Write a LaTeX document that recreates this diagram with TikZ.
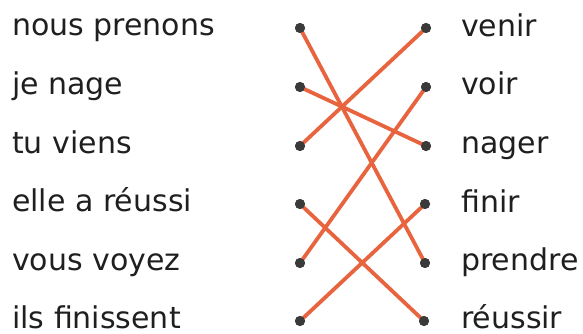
\documentclass[tikz,border=0pt]{standalone}
\usepackage{fontspec}
\setmainfont{DejaVu Sans}
\definecolor{linecol}{HTML}{E8643E}
\definecolor{dotcol}{HTML}{3A3A3A}
\begin{document}
\begin{tikzpicture}[x=1pt,y=-1pt,
  lab/.style={anchor=base west,inner sep=0pt,text depth=0pt,font=\fontsize{30}{32}\selectfont,text=black!88},
  dotn/.style={circle,fill=dotcol,inner sep=0pt,minimum size=10pt},
  link/.style={linecol,line width=3.8pt}]
\useasboundingbox (0,0) rectangle (583,334);
% left labels
\node[lab] (l1) at (12,36) {nous prenons};
\node[lab] (l2) at (12,95) {je nage};
\node[lab] (l3) at (12,153) {tu viens};
\node[lab] (l4) at (12,211) {elle a réussi};
\node[lab] (l5) at (12,270) {vous voyez};
\node[lab] (l6) at (12,328) {ils finissent};
% right labels
\node[lab] (r1) at (461,37) {venir};
\node[lab] (r2) at (461,95) {voir};
\node[lab] (r3) at (461,153) {nager};
\node[lab] (r4) at (461,212) {finir};
\node[lab] (r5) at (461,270) {prendre};
\node[lab] (r6) at (461,328) {réussir};
% dots
\node[dotn] (a1) at (300,28) {};
\node[dotn] (a2) at (300,87) {};
\node[dotn] (a3) at (300,146) {};
\node[dotn] (a4) at (300,204) {};
\node[dotn] (a5) at (300,263) {};
\node[dotn] (a6) at (300,321) {};
\node[dotn] (b1) at (426,28) {};
\node[dotn] (b2) at (426,87) {};
\node[dotn] (b3) at (426,146) {};
\node[dotn] (b4) at (425,204) {};
\node[dotn] (b5) at (425,263) {};
\node[dotn] (b6) at (424,321) {};
% links
\draw[link] (a1.center) -- (b5.center);
\draw[link] (a2.center) -- (b3.center);
\draw[link] (a3.center) -- (b1.center);
\draw[link] (a4.center) -- (b6.center);
\draw[link] (a5.center) -- (b2.center);
\draw[link] (a6.center) -- (b4.center);
% redraw dots on top
\foreach \n in {a1,a2,a3,a4,a5,a6,b1,b2,b3,b4,b5,b6}
  \fill[dotcol] (\n.center) circle (5pt);
\end{tikzpicture}
\end{document}
